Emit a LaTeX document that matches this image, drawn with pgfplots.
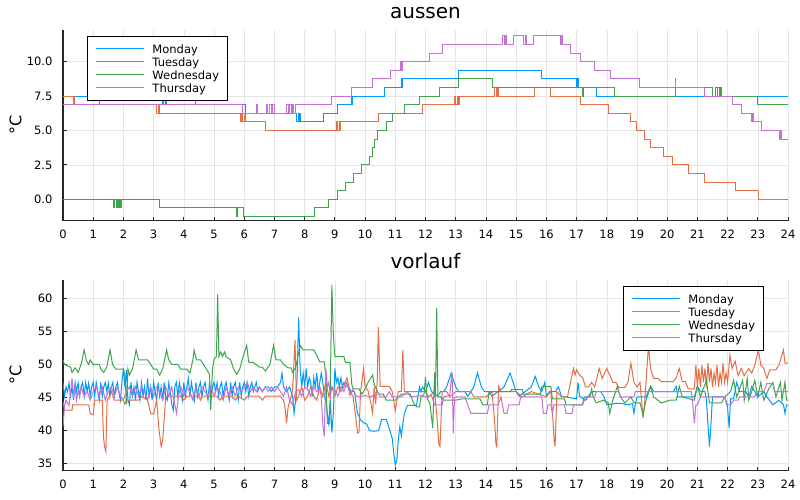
\documentclass[border=0pt]{standalone}
\usepackage{fontspec}
\setmainfont{DejaVu Sans}
\usepackage{pgfplots}
\pgfplotsset{compat=1.18}
\definecolor{c1}{HTML}{009AFA}
\definecolor{c2}{HTML}{E36F47}
\definecolor{c3}{HTML}{3EA44E}
\definecolor{c4}{HTML}{C371D2}
\pgfplotsset{
 legend image code/.code={\draw[#1, line width=1.2pt] (0pt,0.3pt) -- (48pt,0.3pt); \path (56pt,0pt);},
 myaxis/.style={
  scale only axis, width=725pt, height=190.7pt,
  xmin=0, xmax=24, xtick={0,1,...,24},
  axis x line=bottom, axis y line=left,
  axis line style={-, black!85, line width=1.1pt},
  tick align=inside, major tick length=4pt, tick style={black!85, line width=0.8pt},
  grid=major, major grid style={black!10, line width=0.5pt},
  /pgf/number format/assume math mode=true,
  tick label style={font=\fontsize{11.5}{13}\selectfont},
  xticklabel style={yshift=-5.5pt},
  yticklabel style={xshift=-7pt},
  title style={at={(0.5,1)}, anchor=base, yshift=5.7pt, font=\fontsize{20}{24}\selectfont},
  ylabel style={at={(axis description cs:-0.0655,0.5)}, anchor=center, font=\fontsize{16}{19}\selectfont},
  legend style={draw=black, line width=0.8pt, inner xsep=8pt, inner ysep=7pt, font=\fontsize{11.5}{13}\selectfont, nodes={inner sep=0pt, text height=9.9pt, text depth=1.6pt}, row sep=1.5pt, anchor=north west},
  legend cell align=left,
  every axis plot/.append style={line width=1pt},
 }
}
\begin{document}
\begin{tikzpicture}
\begin{axis}[myaxis, at={(63pt,-220.7pt)}, anchor=south west,
  ymin=-1.555, ymax=12.3, ytick={0,2.5,5,7.5,10}, yticklabels={0.0,2.5,5.0,7.5,10.0},
  title={aussen}, ylabel={°C},
  legend style={at={(0.0331,0.9686)}}]
\addplot[c1, const plot] coordinates {(0,7.5) (1.2,6.875) (1.22,7.5) (3.3,6.875) (3.32,7.5) (3.38,6.875) (3.42,7.5) (4.37,6.875) (6.03,6.25) (7.74,5.625) (7.78,6.25) (7.8,5.625) (7.84,6.25) (7.86,5.625) (8.62,6.25) (9.1,6.875) (9.55,7.5) (9.57,6.875) (9.59,7.5) (10.63,8.125) (11.19,8.75) (11.21,8.125) (11.23,8.75) (13.1,9.375) (15.85,8.75) (17.0,8.125) (17.04,8.75) (17.06,8.125) (17.65,7.5) (24,7.5)};
\addlegendentry{Monday}
\addplot[c2, const plot] coordinates {(0,7.5) (0.34,6.875) (0.36,7.5) (0.38,6.875) (3.1,6.25) (3.15,6.875) (3.2,6.25) (5.86,5.625) (5.9,6.25) (5.95,5.625) (6.0,6.25) (6.05,5.625) (6.69,5.0) (9.06,5.625) (9.1,5.0) (9.14,5.625) (9.18,5.0) (9.2,5.625) (10.46,6.25) (11.9,6.875) (12.95,7.5) (13.0,6.875) (13.05,7.5) (13.08,6.875) (13.12,7.5) (14.3,8.125) (14.35,7.5) (14.38,8.125) (14.42,7.5) (15.6,8.125) (16.13,7.5) (17.13,6.875) (18.06,6.25) (18.77,5.625) (18.97,5.0) (19.25,4.375) (19.46,3.75) (19.88,3.125) (20.19,2.5) (20.72,1.875) (21.24,1.25) (22.25,0.625) (23.02,0.0) (24,0.0)};
\addlegendentry{Tuesday}
\addplot[c3, const plot] coordinates {(0,0) (1.67,-0.625) (1.72,0) (1.76,-0.625) (1.8,0) (1.84,-0.625) (1.88,0) (1.9,-0.625) (1.92,0) (3.18,-0.625) (5.74,-1.25) (5.77,-0.625) (5.97,-1.25) (8.32,-0.625) (8.79,0) (9.1,0.625) (9.36,1.25) (9.61,1.875) (9.89,2.5) (10.14,3.125) (10.23,3.75) (10.3,4.375) (10.42,5.0) (10.7,5.625) (10.9,6.25) (11.3,6.875) (11.8,7.5) (12.46,8.125) (13.1,8.75) (14.23,8.125) (17.2,7.5) (17.24,8.125) (18.26,7.5) (20.26,8.125) (21.49,7.5) (21.6,8.125) (21.65,7.5) (21.68,8.125) (21.72,7.5) (21.75,8.125) (21.8,7.5) (23.0,6.875) (24,6.875)};
\addlegendentry{Wednesday}
\addplot[c4, const plot] coordinates {(0,6.875) (5.95,6.25) (6.42,6.875) (6.45,6.25) (6.74,6.875) (6.78,6.25) (6.82,6.875) (6.9,6.25) (6.95,6.875) (7.0,6.25) (7.41,6.875) (7.45,6.25) (7.5,6.875) (7.55,6.25) (7.6,6.875) (7.64,6.25) (7.68,6.875) (8.88,7.5) (9.56,8.125) (10.24,8.75) (10.85,9.375) (11.17,10.0) (11.2,9.375) (11.23,10.0) (12.13,10.625) (12.57,11.25) (14.56,11.875) (14.6,11.25) (14.64,11.875) (14.68,11.25) (14.91,11.875) (15.26,11.25) (15.3,11.875) (15.34,11.25) (15.57,11.875) (16.46,11.25) (16.5,11.875) (16.53,11.25) (16.81,10.625) (17.12,10.0) (17.58,9.375) (18.11,8.75) (19.08,8.125) (20.26,8.75) (20.29,8.125) (21.24,7.5) (22.17,6.875) (22.47,6.25) (22.8,5.625) (22.83,6.25) (22.86,5.625) (23.13,5.0) (23.72,4.375) (23.76,5.0) (23.79,4.375) (24,4.375)};
\addlegendentry{Thursday}
\end{axis}
\begin{axis}[myaxis, at={(63pt,-470.7pt)}, anchor=south west,
  ymin=33.94, ymax=62.77, ytick={35,40,45,50,55,60},
  title={vorlauf}, ylabel={°C},
  legend style={at={(0.7724,0.9686)}}]
\addplot[c1] coordinates {(0,47.3) (0.05,45.2) (0.1,46.6) (0.15,45.9) (0.2,47.2) (0.25,45.2) (0.3,46.6) (0.35,44.6) (0.4,47.3) (0.45,45.9) (0.5,47.2) (0.55,45.2) (0.6,46.6) (0.65,47.3) (0.7,45.2) (0.75,47.3) (0.8,45.9) (0.85,47.2) (0.9,45.2) (0.95,46.6) (1.0,47.3) (1.05,45.2) (1.1,47.3) (1.15,45.9) (1.2,44.6) (1.25,47.3) (1.3,45.2) (1.35,46.6) (1.4,47.3) (1.45,45.9) (1.5,47.2) (1.55,45.2) (1.6,46.6) (1.65,47.3) (1.7,45.2) (1.75,46.6) (1.8,47.3) (1.85,45.9) (1.9,44.6) (1.95,47.3) (2.0,49.4) (2.05,46.6) (2.1,49.2) (2.15,44.6) (2.2,43.9) (2.25,47.3) (2.3,45.2) (2.35,46.6) (2.4,44.6) (2.45,47.3) (2.5,45.9) (2.55,44.6) (2.6,47.2) (2.65,45.2) (2.7,46.6) (2.75,44.6) (2.8,47.9) (2.85,45.2) (2.9,46.6) (2.95,44.6) (3.0,47.3) (3.05,45.9) (3.1,44.6) (3.15,47.3) (3.2,45.2) (3.25,46.6) (3.3,44.6) (3.35,47.3) (3.4,45.2) (3.45,44.6) (3.5,47.2) (3.55,45.9) (3.6,44.0) (3.65,43.1) (3.7,46.6) (3.75,47.3) (3.8,45.2) (3.85,47.3) (3.9,45.9) (3.95,44.6) (4.0,47.3) (4.05,45.2) (4.1,46.6) (4.15,47.9) (4.2,45.2) (4.25,47.3) (4.3,45.9) (4.35,44.6) (4.4,47.3) (4.45,45.2) (4.5,46.6) (4.55,47.3) (4.6,45.2) (4.65,46.6) (4.7,47.3) (4.75,45.9) (4.8,44.6) (4.85,47.3) (4.9,45.2) (4.95,46.6) (5.0,47.3) (5.05,45.9) (5.1,47.2) (5.15,45.2) (5.2,46.6) (5.25,47.3) (5.3,45.2) (5.35,46.6) (5.4,47.3) (5.45,45.9) (5.5,44.6) (5.55,47.3) (5.6,45.2) (5.65,46.6) (5.7,47.3) (5.75,45.9) (5.8,44.6) (5.85,47.3) (5.9,45.2) (5.95,46.6) (6.0,47.3) (6.05,45.9) (6.1,47.2) (6.15,45.2) (6.2,46.6) (6.25,47.3) (6.3,45.9) (6.35,46.6) (6.4,47.3) (6.45,45.9) (6.5,46.6) (6.6,45.9) (6.7,46.6) (6.8,46.6) (6.9,45.9) (7.0,46.6) (7.1,46.6) (7.2,47.3) (7.25,48.7) (7.3,46.6) (7.4,45.9) (7.5,46.6) (7.6,45.2) (7.65,42.6) (7.7,44.6) (7.75,48.0) (7.8,57.1) (7.85,49.4) (7.9,46.6) (7.95,48.7) (8.0,46.6) (8.05,49.4) (8.1,46.6) (8.15,48.0) (8.2,47.3) (8.25,45.2) (8.3,48.0) (8.35,46.6) (8.4,48.7) (8.45,45.9) (8.5,47.3) (8.55,48.7) (8.6,47.3) (8.65,45.2) (8.7,44.6) (8.75,42.6) (8.8,41.0) (8.85,44.6) (8.9,39.7) (8.95,42.6) (9.0,49.4) (9.05,47.3) (9.1,48.0) (9.15,46.6) (9.2,48.0) (9.25,46.6) (9.3,47.3) (9.35,46.6) (9.45,46.6) (9.55,45.9) (9.65,45.9) (9.75,42.6) (9.85,41.6) (9.95,41.2) (10.05,41.0) (10.15,40.0) (10.3,39.9) (10.45,40.0) (10.55,41.7) (10.7,41.7) (10.8,40.3) (10.9,38.8) (10.95,36.5) (11.0,34.8) (11.05,35.5) (11.1,38.6) (11.15,40.6) (11.2,39.2) (11.25,41.0) (11.3,42.6) (11.4,43.8) (11.7,43.8) (11.8,46.6) (11.85,45.9) (11.9,46.6) (12.0,45.9) (12.1,47.3) (12.2,45.9) (12.4,45.2) (12.5,45.9) (12.6,45.9) (12.7,46.6) (12.85,48.7) (13.0,46.6) (13.1,45.9) (13.3,45.9) (13.4,45.2) (13.5,45.9) (13.6,46.6) (13.72,48.7) (13.85,46.6) (13.95,45.9) (14.1,45.9) (14.2,45.2) (14.4,45.9) (14.6,46.6) (14.8,48.7) (14.9,47.3) (15.0,45.9) (15.1,45.2) (15.3,45.9) (15.5,46.6) (15.63,48.2) (15.75,46.6) (15.85,45.9) (15.95,47.3) (16.0,45.2) (16.1,45.9) (16.3,45.9) (16.4,46.6) (16.5,45.2) (17.0,44.8) (17.05,47.3) (17.1,45.2) (17.3,44.6) (17.5,45.9) (17.8,45.9) (17.9,45.2) (18.0,43.9) (18.3,44.1) (18.5,44.1) (18.7,43.9) (18.85,44.1) (18.9,42.6) (18.95,44.1) (19.0,45.1) (19.3,45.1) (19.45,46.7) (19.55,45.9) (20.2,45.9) (20.3,46.7) (20.35,45.1) (20.9,45.1) (21.0,46.7) (21.1,45.9) (21.25,45.9) (21.3,44.6) (21.35,41.0) (21.4,37.6) (21.45,41.0) (21.5,45.1) (21.9,45.1) (22.0,43.5) (22.05,40.4) (22.1,44.8) (22.2,44.8) (22.3,47.3) (22.4,45.9) (22.6,45.9) (22.7,45.1) (22.8,46.7) (23.0,45.1) (23.2,45.9) (23.3,45.1) (23.5,43.9) (23.7,44.6) (23.85,43.9) (23.9,42.6) (23.95,43.9) (24,43.9)};
\addlegendentry{Monday}
\addplot[c2] coordinates {(0,44.4) (0.05,43.1) (0.3,43.1) (0.32,43.9) (0.85,43.9) (0.9,42.6) (1.0,42.4) (1.05,44.6) (1.3,44.6) (1.34,39.0) (1.38,37.5) (1.42,36.8) (1.46,44.6) (1.55,45.2) (1.6,45.9) (1.7,44.6) (2.0,44.6) (2.05,44.0) (2.1,44.6) (2.5,44.6) (2.6,45.2) (2.8,44.6) (2.9,42.6) (3.0,42.5) (3.1,44.6) (3.18,40) (3.25,37.6) (3.3,38.5) (3.4,45.1) (3.5,45.2) (3.9,45.2) (4.0,44.6) (4.1,45.2) (4.5,45.2) (4.55,44.6) (4.6,45.2) (5.1,45.2) (5.2,44.6) (5.3,45.2) (5.6,45.2) (5.7,44.6) (5.8,45.2) (6.0,44.6) (6.1,45.2) (6.5,45.2) (6.6,44.6) (6.7,45.2) (7.2,45.2) (7.3,44.6) (7.35,43.5) (7.4,41.1) (7.45,43.5) (7.55,45.2) (7.6,46.0) (7.68,53.7) (7.73,44.6) (7.8,45.2) (7.9,46.6) (8.0,44.6) (8.1,45.2) (8.2,46.6) (8.3,45.2) (8.4,44.6) (8.5,46.6) (8.6,45.2) (8.7,47.3) (8.8,45.2) (8.9,46.6) (9.0,45.2) (9.1,46.6) (9.2,45.9) (9.3,46.6) (9.4,48.0) (9.5,45.9) (9.6,45.2) (9.68,42.5) (9.75,39.6) (9.8,39.8) (9.85,45.9) (9.95,49.4) (10.0,46.6) (10.1,46.0) (10.2,44.0) (10.25,42.6) (10.3,46.6) (10.35,44.0) (10.4,47.3) (10.44,55.7) (10.5,46.7) (10.8,46.7) (10.9,45.9) (11.0,43.0) (11.1,45.9) (11.2,45.9) (11.25,52.2) (11.3,45.9) (12.0,45.9) (12.1,45.1) (12.3,45.9) (12.38,42.0) (12.44,38.0) (12.48,37.6) (12.55,45.9) (12.7,45.9) (12.8,45.1) (13.0,45.9) (13.5,45.9) (13.6,45.1) (14.0,45.1) (14.2,45.9) (14.28,42.0) (14.33,38.0) (14.36,37.6) (14.42,46.7) (14.5,45.9) (15.0,45.9) (15.2,45.1) (15.5,45.9) (16.0,45.1) (16.15,45.9) (16.22,41.5) (16.26,38.5) (16.29,37.6) (16.35,45.9) (16.5,45.1) (16.7,45.1) (16.8,47.3) (16.9,49.4) (16.95,48.4) (17.0,49.2) (17.1,48.4) (17.2,48.0) (17.3,46.6) (17.4,46.6) (17.5,47.3) (17.6,46.6) (17.75,49.4) (17.85,47.9) (18.0,49.4) (18.1,48.4) (18.2,47.3) (18.3,47.3) (18.4,46.5) (18.6,46.5) (18.7,47.3) (18.8,50.2) (18.9,47.3) (19.0,46.6) (19.1,47.3) (19.2,41.9) (19.25,44.0) (19.3,47.3) (19.38,52.8) (19.45,49.4) (19.55,47.9) (19.7,47.9) (19.8,47.4) (20.2,47.4) (20.3,48.0) (20.4,49.4) (20.5,47.4) (20.6,47.4) (20.7,46.3) (20.9,46.3) (20.95,49.9) (21.0,46.6) (21.05,49.4) (21.1,46.6) (21.15,49.9) (21.2,47.3) (21.25,49.4) (21.3,46.5) (21.35,50.2) (21.4,47.3) (21.45,49.4) (21.5,46.6) (21.55,48.7) (21.6,47.3) (21.65,49.9) (21.7,46.6) (21.75,48.7) (21.8,47.3) (21.85,50.2) (21.9,47.3) (21.95,48.7) (22.0,47.3) (22.08,51.4) (22.15,49.4) (22.25,50.5) (22.35,48.3) (22.45,49.4) (22.55,48.3) (22.7,49.4) (22.8,48.7) (22.9,49.9) (23.02,52.2) (23.1,49.9) (23.2,49.4) (23.3,47.9) (23.4,49.2) (23.6,49.2) (23.7,49.9) (23.85,52.2) (23.9,50.2) (24,50.2)};
\addlegendentry{Tuesday}
\addplot[c3] coordinates {(0,50.7) (0.05,50.0) (0.25,49.6) (0.3,48.8) (0.4,49.5) (0.5,48.8) (0.6,50.0) (0.7,52.2) (0.78,50.5) (0.85,50.0) (0.9,50.7) (1.0,50.0) (1.2,50.0) (1.25,49.3) (1.35,48.8) (1.45,49.6) (1.56,52.2) (1.64,50.0) (1.75,49.3) (2.0,49.3) (2.05,48.4) (2.1,44.0) (2.15,49.3) (2.2,48.4) (2.3,49.3) (2.42,52.2) (2.5,50.7) (2.8,50.7) (2.9,50.0) (3.0,49.3) (3.1,49.3) (3.2,48.4) (3.3,49.3) (3.43,52.2) (3.5,50.7) (3.6,50.0) (3.8,50.0) (3.9,49.3) (4.1,49.3) (4.2,48.7) (4.3,50.7) (4.34,52.2) (4.42,50.7) (4.55,50.7) (4.65,50.0) (4.75,49.3) (4.85,48.5) (4.89,43.1) (4.95,49.3) (5.0,50.8) (5.08,51.2) (5.12,60.6) (5.16,51.2) (5.22,51.9) (5.28,51.2) (5.35,51.9) (5.4,51.2) (5.55,50.7) (5.65,49.3) (5.75,48.5) (5.85,49.3) (5.95,51.0) (6.08,52.9) (6.15,50.3) (6.3,50.3) (6.5,49.6) (6.6,49.6) (6.7,49.0) (6.85,50.0) (6.97,52.9) (7.05,50.7) (7.2,50.7) (7.3,50.0) (7.45,49.5) (7.55,49.5) (7.6,48.8) (7.7,49.5) (7.85,52.9) (7.95,52.2) (8.3,52.2) (8.4,51.4) (8.5,50.4) (8.65,50.4) (8.7,48.2) (8.75,41.1) (8.83,41.1) (8.9,62.0) (8.95,54.5) (9.0,51.2) (9.3,51.2) (9.35,50.3) (9.5,50.3) (9.56,47.0) (9.6,46.3) (9.8,46.3) (9.9,45.5) (10.0,46.3) (10.1,47.3) (10.25,48.4) (10.3,47.0) (10.35,46.5) (10.45,45.5) (10.6,45.5) (10.7,44.6) (11.0,44.6) (11.2,45.5) (11.5,45.5) (11.6,44.2) (11.7,43.6) (11.8,43.6) (11.85,45.1) (11.95,45.5) (12.0,48.1) (12.05,45.0) (12.15,44.0) (12.24,40.4) (12.3,48.8) (12.33,45.0) (12.37,58.5) (12.41,45.1) (12.5,45.1) (12.6,44.6) (13.0,44.6) (13.2,44.8) (13.8,44.8) (13.9,43.9) (14.05,43.9) (14.1,45.9) (14.8,45.9) (14.85,46.2) (15.2,46.2) (15.25,45.5) (15.8,45.5) (15.85,46.7) (16.15,46.7) (16.2,44.8) (16.6,44.8) (16.65,43.9) (17.2,43.9) (17.25,45.1) (17.45,45.1) (17.5,46.3) (17.55,45.1) (17.65,44.2) (17.9,44.6) (18.05,44.2) (18.1,42.6) (18.2,44.6) (18.35,46.7) (18.45,45.1) (18.6,44.2) (18.8,45.1) (18.9,44.2) (19.1,44.2) (19.2,42.4) (19.3,44.6) (19.45,46.7) (19.55,45.1) (19.8,44.2) (20.1,44.6) (20.3,44.6) (20.4,46.7) (20.5,45.1) (20.9,44.6) (21.0,46.7) (21.1,45.1) (21.3,47.6) (21.4,44.2) (21.8,44.2) (21.9,45.1) (22.1,45.9) (22.2,47.6) (22.3,45.1) (22.5,47.6) (22.55,44.6) (22.65,47.9) (22.7,44.6) (22.8,45.9) (22.9,47.6) (23.0,45.1) (23.1,47.3) (23.2,44.6) (23.35,46.2) (23.5,47.3) (23.6,45.1) (23.75,47.3) (23.8,44.6) (23.9,47.3) (23.95,44.6) (24,44.6)};
\addlegendentry{Wednesday}
\addplot[c4] coordinates {(0,40.6) (0.05,43.8) (0.1,44.6) (0.2,43.8) (0.3,47.9) (0.35,45.2) (0.4,46.6) (0.45,44.6) (0.5,46.0) (0.55,45.2) (0.6,46.6) (0.7,45.2) (0.8,46.0) (0.9,44.6) (1.0,45.9) (1.1,46.6) (1.2,45.2) (1.3,46.6) (1.4,44.6) (1.5,45.9) (1.6,46.6) (1.7,45.2) (1.8,46.6) (1.9,45.2) (2.0,44.6) (2.1,45.9) (2.2,46.6) (2.3,45.2) (2.4,46.6) (2.5,45.2) (2.6,46.6) (2.7,45.9) (2.8,44.6) (2.9,46.6) (3.0,45.2) (3.1,46.6) (3.2,45.9) (3.3,44.6) (3.4,46.6) (3.5,45.2) (3.6,46.6) (3.7,44.0) (3.76,42.6) (3.82,45.2) (3.9,46.6) (4.0,45.2) (4.1,46.6) (4.2,45.9) (4.3,44.6) (4.4,46.6) (4.5,45.2) (4.6,46.6) (4.7,45.9) (4.8,45.2) (4.9,46.6) (5.0,45.2) (5.1,46.6) (5.2,45.9) (5.3,44.6) (5.4,46.6) (5.5,45.2) (5.6,46.6) (5.7,45.2) (5.8,46.6) (5.9,45.9) (6.0,46.6) (6.1,47.3) (6.2,45.9) (6.3,46.6) (6.4,45.9) (6.5,46.6) (6.6,45.9) (6.7,46.6) (6.8,45.9) (6.9,46.6) (7.0,45.9) (7.1,46.6) (7.2,45.9) (7.3,45.2) (7.4,46.6) (7.5,44.6) (7.6,43.9) (7.7,45.9) (7.8,46.2) (7.9,45.2) (8.0,46.6) (8.1,46.2) (8.2,45.2) (8.3,46.6) (8.4,45.9) (8.5,46.2) (8.55,45.2) (8.6,41.0) (8.65,39.1) (8.7,49.4) (8.75,46.6) (8.8,47.3) (8.85,45.2) (8.9,46.6) (9.0,46.2) (9.1,45.2) (9.2,46.6) (9.3,45.9) (9.4,47.3) (9.5,45.3) (9.6,46.2) (9.7,45.3) (9.8,45.1) (10.0,45.3) (10.2,45.1) (10.4,45.9) (10.5,45.1) (10.7,45.1) (10.8,45.9) (10.9,45.1) (11.2,45.1) (11.4,45.9) (11.5,45.1) (11.8,45.3) (12.0,45.1) (12.2,45.3) (12.3,43.9) (12.55,43.9) (12.6,45.1) (12.8,45.3) (12.88,48.8) (12.92,39.6) (12.96,45.0) (13.05,45.1) (13.3,45.1) (13.4,43.9) (13.5,42.6) (14.05,42.6) (14.1,43.9) (14.4,43.9) (14.5,45.1) (14.6,42.6) (14.7,42.6) (14.75,43.9) (15.1,43.9) (15.15,45.1) (15.85,45.1) (15.9,42.6) (16.0,42.6) (16.05,43.9) (16.15,43.9) (16.2,42.6) (16.25,43.9) (16.6,43.9) (16.65,42.6) (16.85,42.6) (16.9,43.9) (17.2,43.9) (17.3,45.1) (17.6,45.1) (17.65,45.9) (18.4,45.9) (18.45,45.1) (18.9,45.1) (18.95,45.9) (20.8,45.9) (20.85,43.9) (20.9,41.1) (20.95,43.9) (21.0,43.9) (21.1,45.1) (21.9,45.1) (22.0,43.9) (22.1,43.9) (22.2,44.6) (22.35,44.6) (22.4,45.1) (22.9,45.1) (22.95,45.9) (23.2,45.9) (23.3,47.1) (23.5,47.1) (23.55,45.9) (24,45.9)};
\addlegendentry{Thursday}
\end{axis}
\pgfresetboundingbox
\useasboundingbox (0,0) rectangle (800pt,-500pt);
\end{tikzpicture}
\end{document}
